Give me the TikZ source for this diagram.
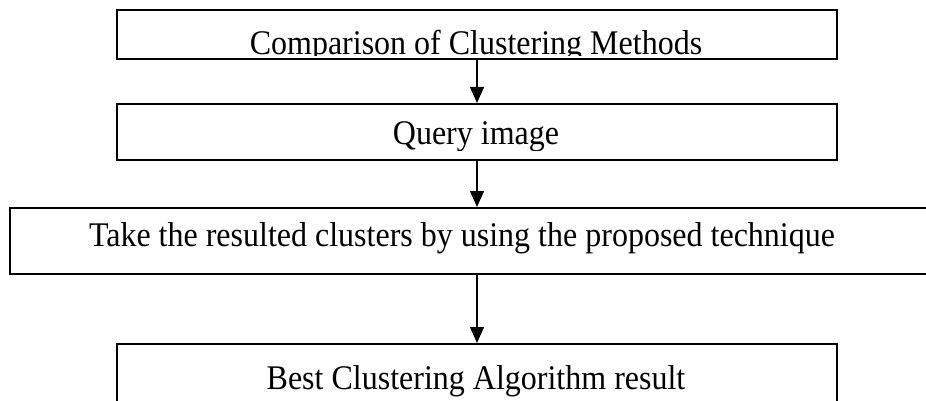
\documentclass[tikz,border=0pt]{standalone}
\usepackage{fontspec}
\setmainfont{Liberation Serif}
\usetikzlibrary{arrows.meta}
% slightly tall, condensed-looking lettering
\newcommand{\tallword}[1]{\scalebox{1}[1.08]{#1}}
\begin{document}
\begin{tikzpicture}[x=1pt,y={(0pt,-1pt)},
  frame/.style={draw=black, line width=2pt, inner sep=0pt, anchor=north west},
  link/.style={draw=black, line width=1.3pt, -{Triangle[length=16pt,width=14pt]}},
  caption/.style={font=\fontsize{32}{38}\selectfont, inner sep=0pt, anchor=base}]
\clip (0,0) rectangle (926,401);
\fill[white] (0,0) rectangle (926,401);

% process boxes
\node[frame, minimum width=720pt, minimum height=49pt] (b1) at (116,9) {};
\node[frame, minimum width=720pt, minimum height=56pt] (b2) at (116,103) {};
\node[frame, minimum width=950pt, minimum height=66pt] (b3) at (9,207) {};
\node[frame, minimum width=720pt, minimum height=90pt] (b4) at (116,343) {};

% box texts, cut off by the box interiors
\begin{scope}
  \clip (b1.north west) rectangle (836,56);
  \node[caption] (t1) at (476,55) {\tallword{Comparison of Clustering Methods}};
\end{scope}
\begin{scope}
  \clip (b2.north west) rectangle (836,150);
  \node[caption] (t2) at (476,145) {\tallword{Query image}};
\end{scope}
\node[caption] (t3) at (462,246) {\tallword{Take the resulted clusters by using the proposed technique}};
\node[caption] (t4) at (476,389) {\tallword{Best Clustering Algorithm result}};

% flow arrows
\draw[link] (b1.south) -- (b2.north);
\draw[link] (b2.south) -- (b2.south |- b3.north);
\draw[link] (b2.south |- b3.south) -- (b4.north);
\end{tikzpicture}
\end{document}
